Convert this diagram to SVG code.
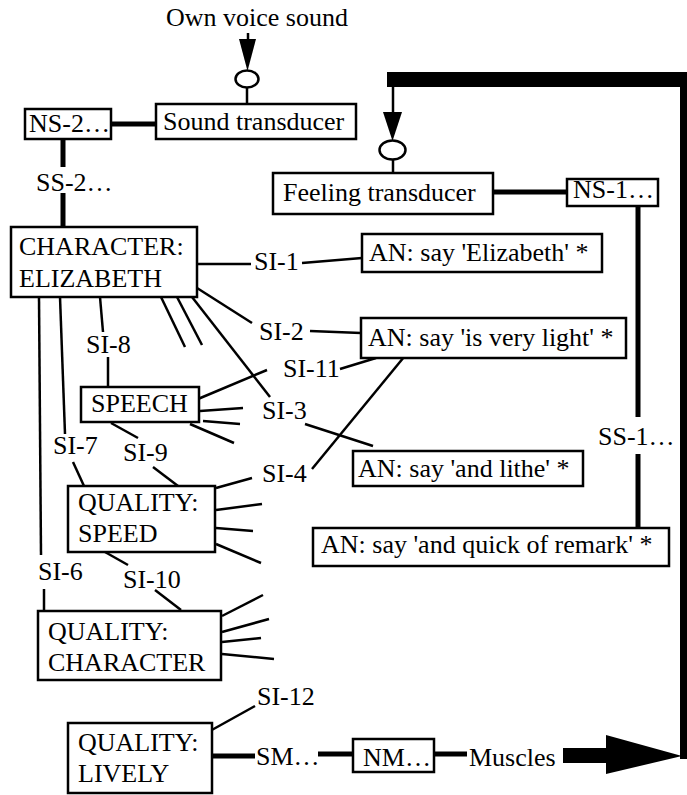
<svg xmlns="http://www.w3.org/2000/svg" width="687" height="795" viewBox="0 0 687 795" font-family="Liberation Serif, Tinos, Times New Roman, serif">
  <style>
    .box { fill: #fff; stroke: #000; stroke-width: 2.5; }
    .t { font-family: "Liberation Serif", Tinos, "Times New Roman", serif; font-size: 26px; fill: #000; }
    .ln { stroke: #000; stroke-width: 2.5; fill: none; stroke-linecap: butt; }
    .thk { stroke: #000; stroke-width: 5; fill: none; }
    .fill { fill: #000; stroke: none; }
    .sense { fill: #fff; stroke: #000; stroke-width: 2.5; }
  </style>
  <rect width="687" height="795" fill="#fff"/>

  <!-- connectors -->
  <g id="connectors">
    <!-- own voice input -->
    <line class="ln" x1="248" y1="33" x2="248" y2="42"/>
    <polygon class="fill" points="239,39 256,39 247.5,71"/>
    <line class="ln" x1="247" y1="87" x2="247" y2="104"/>

    <!-- feedback loop from muscles back to feeling transducer -->
    <rect class="fill" x="387" y="72" width="300" height="15"/>
    <rect class="fill" x="680" y="72" width="7" height="687"/>
    <line class="ln" x1="393" y1="86" x2="393" y2="115"/>
    <polygon class="fill" points="383,112 402,112 392.5,141"/>
    <line class="ln" x1="393" y1="159" x2="393" y2="173"/>

    <!-- sensory chain 2 -->
    <line class="thk" x1="111" y1="124" x2="156" y2="124"/>
    <line class="thk" x1="63" y1="139" x2="63" y2="167"/>
    <line class="thk" x1="63" y1="193" x2="63" y2="227"/>

    <!-- sensory chain 1 -->
    <line class="thk" x1="493" y1="192" x2="567" y2="192"/>
    <line class="thk" x1="638" y1="206" x2="638" y2="417"/>
    <line class="thk" x1="638" y1="454" x2="638" y2="528"/>

    <!-- character links -->
    <line class="ln" x1="197" y1="264" x2="251" y2="264"/>
    <line class="ln" x1="302" y1="263" x2="362" y2="258"/>
    <line class="ln" x1="197" y1="288" x2="252" y2="323"/>
    <line class="ln" x1="310" y1="331" x2="361" y2="333"/>
    <line class="ln" x1="161" y1="297" x2="185" y2="347"/>
    <line class="ln" x1="177" y1="297" x2="202" y2="345"/>
    <line class="ln" x1="192" y1="297" x2="270" y2="397"/>
    <line class="ln" x1="305" y1="424" x2="373" y2="446"/>
    <line class="ln" x1="100" y1="297" x2="103" y2="332"/>
    <line class="ln" x1="108" y1="357" x2="108" y2="387"/>
    <line class="ln" x1="60" y1="297" x2="65" y2="434"/>
    <line class="ln" x1="73" y1="462" x2="84" y2="486"/>
    <line class="ln" x1="39" y1="297" x2="41" y2="555"/>
    <line class="ln" x1="44" y1="589" x2="44" y2="611"/>

    <!-- speech links -->
    <line class="ln" x1="198" y1="399" x2="267" y2="370"/>
    <line class="ln" x1="340" y1="369" x2="376" y2="358"/>
    <line class="ln" x1="200" y1="411" x2="243" y2="408"/>
    <line class="ln" x1="203" y1="421" x2="240" y2="424"/>
    <line class="ln" x1="190" y1="424" x2="234" y2="443"/>
    <line class="ln" x1="111" y1="423" x2="138" y2="438"/>
    <line class="ln" x1="153" y1="467" x2="178" y2="486"/>

    <!-- speed links -->
    <line class="ln" x1="216" y1="488" x2="252" y2="478"/>
    <line class="ln" x1="312" y1="469" x2="404" y2="357"/>
    <line class="ln" x1="216" y1="510" x2="262" y2="504"/>
    <line class="ln" x1="216" y1="528" x2="253" y2="531"/>
    <line class="ln" x1="216" y1="544" x2="261" y2="563"/>
    <line class="ln" x1="105" y1="552" x2="128" y2="565"/>
    <line class="ln" x1="155" y1="590" x2="181" y2="610"/>

    <!-- character quality links -->
    <line class="ln" x1="222" y1="616" x2="263" y2="595"/>
    <line class="ln" x1="222" y1="632" x2="269" y2="619"/>
    <line class="ln" x1="222" y1="642" x2="261" y2="638"/>
    <line class="ln" x1="222" y1="654" x2="274" y2="659"/>

    <!-- motor chain -->
    <line class="ln" x1="210" y1="731" x2="255" y2="706"/>
    <line class="thk" x1="212" y1="756" x2="255" y2="756"/>
    <line class="thk" x1="318" y1="754" x2="353" y2="754"/>
    <line class="thk" x1="434" y1="754" x2="467" y2="754"/>
    <rect class="fill" x="563" y="748" width="45" height="15"/>
    <polygon class="fill" points="606,735 606,774 682,756"/>
  </g>

  <!-- sense organs -->
  <g id="ear"><ellipse class="sense" cx="247" cy="79" rx="11.5" ry="8.5"/></g>
  <g id="skin"><ellipse class="sense" cx="392.5" cy="150" rx="13" ry="9.5"/></g>

  <!-- labels -->
  <g id="labels">
    <text class="t" x="166" y="26">Own voice sound</text>
    <text class="t" x="36" y="191">SS-2…</text>
    <text class="t" x="598" y="445">SS-1…</text>
    <text class="t" x="254" y="270">SI-1</text>
    <text class="t" x="259" y="340">SI-2</text>
    <text class="t" x="86" y="353">SI-8</text>
    <text class="t" x="283" y="377">SI-11</text>
    <text class="t" x="262" y="419">SI-3</text>
    <text class="t" x="53" y="454">SI-7</text>
    <text class="t" x="123" y="461">SI-9</text>
    <text class="t" x="262" y="482">SI-4</text>
    <text class="t" x="38" y="580">SI-6</text>
    <text class="t" x="123" y="588">SI-10</text>
    <text class="t" x="257" y="705">SI-12</text>
    <text class="t" x="256" y="765">SM…</text>
    <text class="t" x="469" y="766">Muscles</text>
  </g>

  <!-- nodes -->
  <g id="sound-transducer">
    <rect class="box" x="156" y="104" width="200" height="35"/>
    <text class="t" x="163" y="130">Sound transducer</text>
  </g>
  <g id="ns-2">
    <rect class="box" x="25" y="109" width="86" height="30"/>
    <text class="t" x="29" y="132">NS-2…</text>
  </g>
  <g id="feeling-transducer">
    <rect class="box" x="273" y="173" width="220" height="41"/>
    <text class="t" x="283" y="201">Feeling transducer</text>
  </g>
  <g id="ns-1">
    <rect class="box" x="567" y="179" width="91" height="27"/>
    <text class="t" x="573" y="198">NS-1…</text>
  </g>
  <g id="character-elizabeth">
    <rect class="box" x="11" y="227" width="186" height="70"/>
    <text class="t" x="19" y="255">CHARACTER:</text>
    <text class="t" x="19" y="287">ELIZABETH</text>
  </g>
  <g id="an-elizabeth">
    <rect class="box" x="362" y="234" width="240" height="38"/>
    <text class="t" x="369" y="261">AN: say 'Elizabeth' *</text>
  </g>
  <g id="an-very-light">
    <rect class="box" x="361" y="318" width="265" height="40"/>
    <text class="t" x="368" y="346">AN: say 'is very light' *</text>
  </g>
  <g id="speech">
    <rect class="box" x="81" y="387" width="118" height="35"/>
    <text class="t" x="91" y="412">SPEECH</text>
  </g>
  <g id="an-lithe">
    <rect class="box" x="353" y="451" width="230" height="35"/>
    <text class="t" x="358" y="477">AN: say 'and lithe' *</text>
  </g>
  <g id="quality-speed">
    <rect class="box" x="68" y="486" width="147" height="66"/>
    <text class="t" x="78" y="511">QUALITY:</text>
    <text class="t" x="78" y="542">SPEED</text>
  </g>
  <g id="an-quick">
    <rect class="box" x="313" y="528" width="356" height="38"/>
    <text class="t" x="321" y="553">AN: say 'and quick of remark' *</text>
  </g>
  <g id="quality-character">
    <rect class="box" x="38" y="611" width="183" height="69"/>
    <text class="t" x="48" y="640">QUALITY:</text>
    <text class="t" x="48" y="671">CHARACTER</text>
  </g>
  <g id="quality-lively">
    <rect class="box" x="68" y="723" width="144" height="70"/>
    <text class="t" x="78" y="751">QUALITY:</text>
    <text class="t" x="78" y="782">LIVELY</text>
  </g>
  <g id="nm">
    <rect class="box" x="353" y="739" width="81" height="33"/>
    <text class="t" x="363" y="766">NM…</text>
  </g>
</svg>
